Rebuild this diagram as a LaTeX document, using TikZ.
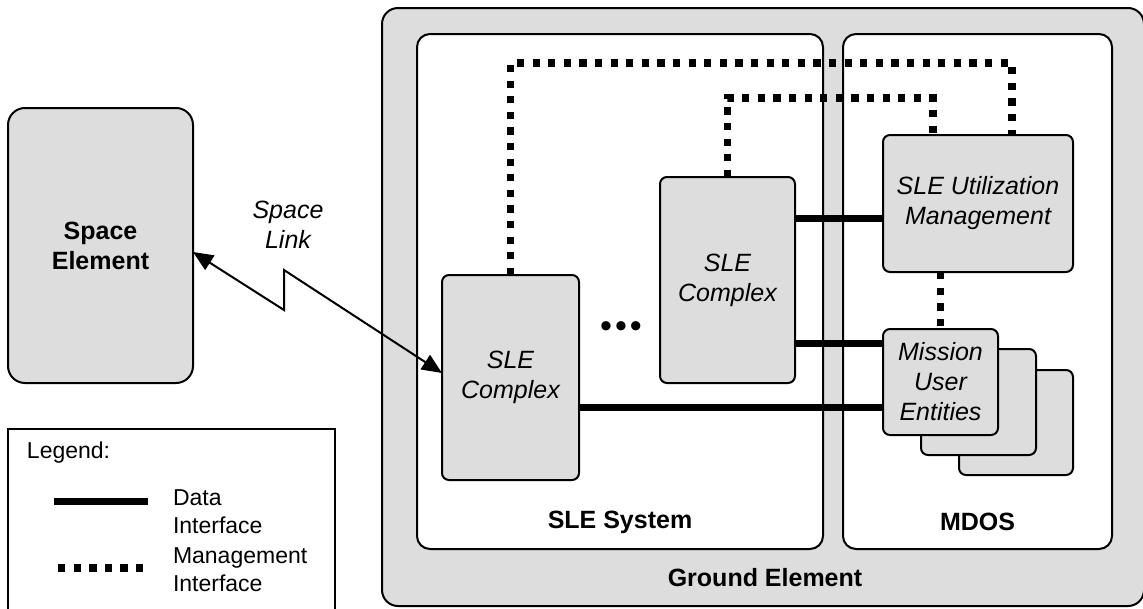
\documentclass[tikz,border=0pt]{standalone}
\usepackage{fontspec}
\setmainfont{Liberation Sans}
\usepackage{tikz}
\usetikzlibrary{arrows.meta}
\definecolor{boxgray}{RGB}{221,221,221}

\begin{document}
\begin{tikzpicture}[x=1pt,y=-1pt,
  every node/.style={inner sep=0pt,outer sep=0pt,align=center},
  legbox/.style={draw=black,line width=2.4pt,fill=white},
  bigbox/.style={draw=black,line width=2pt,fill=boxgray,rounded corners=16pt},
  area/.style={draw=black,line width=2pt,fill=white,rounded corners=13pt},
  unit/.style={draw=black,line width=2pt,fill=boxgray,rounded corners=7pt},
  lbl/.style={font=\fontsize{25}{30}\selectfont\bfseries},
  ilbl/.style={font=\fontsize{25}{30}\selectfont\itshape},
  legtext/.style={font=\fontsize{23}{28}\selectfont,align=left,anchor=west},
  dataline/.style={line width=7pt},
  mgmtline/.style={line width=7.3pt,dash pattern=on 7.3pt off 8.3pt},
  linkline/.style={line width=2pt,{Triangle[length=20pt,width=17pt]}-{Triangle[length=20pt,width=17pt]}}
]
\useasboundingbox (0,0) rectangle (1143,608);

% ground side
\node[bigbox,minimum width=762pt,minimum height=598pt] at (763,307) (ground) {};
\node[area,minimum width=406pt,minimum height=515pt] at (620,291.5) (slesys) {};
\node[area,minimum width=269pt,minimum height=515pt] at (977.5,291.5) (mdos) {};
\node[lbl] at (620,522) (slesyslabel) {SLE System};
\node[lbl] at (977.5,522) (mdoslabel) {MDOS};
\node[lbl] at (765,578) (groundlabel) {Ground Element};

\node[unit,minimum width=137pt,minimum height=205pt,ilbl] at (510.5,377.5) (c1) {SLE\\Complex};
\node[unit,minimum width=135pt,minimum height=206pt,ilbl] at (727.5,280) (c2) {SLE\\Complex};
\node[unit,minimum width=190pt,minimum height=137pt,ilbl] at (978,203.5) (util) {SLE Utilization\\Management};
\node[unit,minimum width=114pt,minimum height=105pt] at (1016,422.5) (mue3) {};
\node[unit,minimum width=115pt,minimum height=106pt] at (978.5,402) (mue2) {};
\node[unit,minimum width=115pt,minimum height=106pt,ilbl] at (940.5,382) (mue1) {Mission\\User\\Entities};
\node[font=\fontsize{34}{34}\selectfont] at (621,330) (dots) {•\kern3pt•\kern3pt•};

% interfaces
\draw[dataline] (c2.east |- 0,218) -- (util.west |- 0,218);
\draw[dataline] (c2.east |- 0,343) -- (mue1.west |- 0,343);
\draw[dataline] (c1.east |- 0,407) -- (mue1.west |- 0,407);
\draw[mgmtline] (c1.north) |- (1012,63) -- (1012,0 |- util.north);
\draw[mgmtline] (c2.north) |- (933,98) -- (933,0 |- util.north);
\draw[mgmtline] (mue1.north |- util.south) -- (mue1.north);

% space side
\node[bigbox,rounded corners=17pt,minimum width=185pt,minimum height=275pt,lbl] at (100.5,245.5) (se) {Space\\Element};
\draw[linkline] (se.east |- 0,252) -- (284,310) -- (284,270) -- (c1.west |- 0,373);
\node[ilbl] at (288,225) (linklabel) {Space\\Link};

% legend
\node[legbox,minimum width=327pt,minimum height=191pt] at (171.5,524.5) (legend) {};
\node[legtext] at (27,453) (legtitle) {Legend:};
\draw[dataline] (54,501) -- (148,501);
\node[legtext] at (173,512) (datatext) {Data\\Interface};
\draw[mgmtline] (58,568) -- (146,568);
\node[legtext] at (173,570) (mgmttext) {Management\\Interface};

\end{tikzpicture}
\end{document}
